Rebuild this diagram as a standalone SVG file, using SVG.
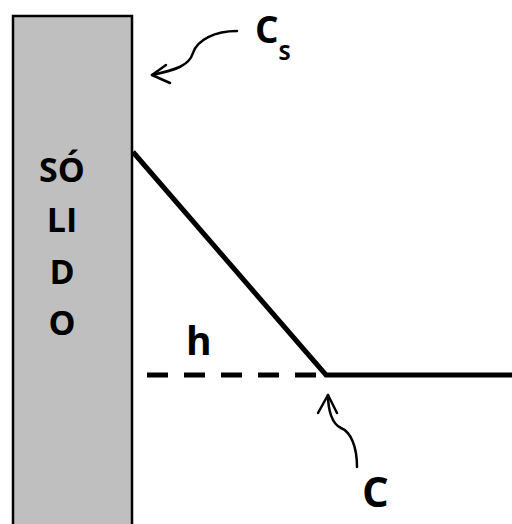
<svg xmlns="http://www.w3.org/2000/svg" width="512" height="524" viewBox="0 0 512 524">
<style>
text{font-family:"Open Sans","Liberation Sans",sans-serif;font-weight:bold;fill:#000}
.sol{font-size:34px;text-anchor:middle}
.ln{stroke:#000;fill:none;stroke-width:5}
.cv{stroke:#000;fill:none;stroke-width:2.5;stroke-linecap:round;stroke-linejoin:round}
</style>
<rect width="512" height="524" fill="#fff"/>
<g id="solido">
<rect x="13" y="16" width="119" height="520" fill="#bfbfbf" stroke="#000" stroke-width="2.5"/>
<text class="sol" x="62" y="182">SÓ</text>
<text class="sol" x="62" y="232">LI</text>
<text class="sol" x="62" y="284">D</text>
<text class="sol" x="62" y="335">O</text>
</g>
<g id="connectors">
<path class="ln" d="M133,152 L326,375 L512,375"/>
<path class="ln" d="M147,375 L322,375" stroke-dasharray="21 16"/>
<path class="cv" d="M237,31 C215,31 197,40 193,53 C189,66 175,70 152,75"/>
<path class="cv" d="M166,65 L152,75 L170,83"/>
<path class="cv" d="M357,467 C357,447 351,432 341,428 C332,424 328,410 328,395"/>
<path class="cv" d="M318,413 L328,395 L337,413"/>
</g>
<g id="labels">
<text x="255" y="43" font-size="37">C<tspan font-size="22" dy="17">S</tspan></text>
<text x="186" y="355" font-size="39">h</text>
<text x="362" y="507" font-size="42">C</text>
</g>
</svg>
